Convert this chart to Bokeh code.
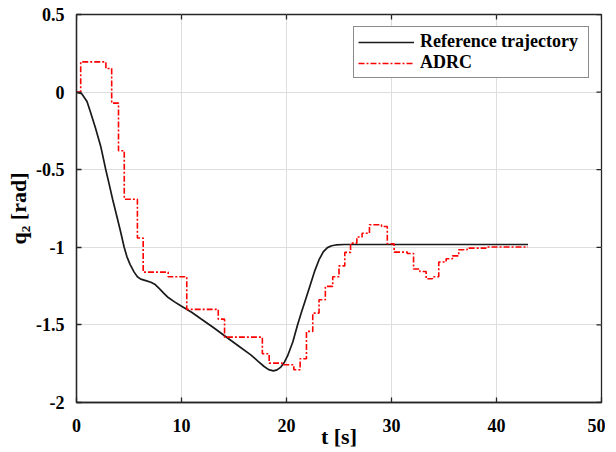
import math
from bokeh.plotting import figure
from bokeh.models import FixedTicker, CustomJSTickFormatter, Range1d
from bokeh.embed import file_html
from bokeh.resources import INLINE

# Reference trajectory (smooth)
ref_t = [0, 0.5, 1.0, 1.36, 1.8, 2.31, 2.79, 3.1, 3.45, 3.84, 4.2, 4.54, 4.8, 5.1,
         5.49, 5.8, 6.12, 6.6, 7.08, 7.5, 7.87, 8.3, 8.67, 9.3, 9.93, 11.0, 11.84,
         13.0, 14.2, 15.4, 16.6, 17.3, 17.87, 18.3, 18.76, 19.1, 19.46, 19.8, 20.1,
         20.6, 21.05, 21.4, 21.85, 22.3, 22.7, 23.1, 23.5, 23.9, 24.3, 24.7, 25.5,
         43.0]
ref_q = [0, -0.01, -0.06, -0.134, -0.23, -0.35, -0.5, -0.59, -0.694, -0.80, -0.9,
         -1.0, -1.06, -1.11, -1.16, -1.19, -1.205, -1.215, -1.225, -1.24, -1.265,
         -1.295, -1.32, -1.35, -1.377, -1.42, -1.46, -1.515, -1.575, -1.634, -1.693,
         -1.735, -1.768, -1.788, -1.796, -1.79, -1.772, -1.74, -1.70, -1.61, -1.50,
         -1.424, -1.33, -1.235, -1.15, -1.08, -1.03, -1.002, -0.99, -0.985, -0.982,
         -0.982]

# ADRC (staircase)
adrc_t = [0, 0.4, 2.8, 3.35, 4.0, 4.55, 5.8, 6.35, 8.73, 10.5, 13.5, 14.1, 17.7,
          18.35, 19.6, 20.7, 21.3, 21.9, 22.5, 23.1, 23.7, 24.4, 25.0, 25.55, 26.1,
          26.7, 27.2, 27.9, 29.05, 29.6, 30.25, 31.5, 32.1, 32.7, 33.3, 33.9, 34.5,
          35.2, 35.8, 36.4, 37.2, 39.0, 43.0]
adrc_q = [0, 0.195, 0.152, -0.071, -0.378, -0.69, -0.94, -1.16, -1.19, -1.40, -1.463,
          -1.579, -1.686, -1.746, -1.757, -1.789, -1.718, -1.542, -1.424, -1.338,
          -1.252, -1.19, -1.12, -1.033, -0.973, -0.934, -0.909, -0.855, -0.866,
          -0.977, -1.031, -1.04, -1.14, -1.156, -1.203, -1.19, -1.095, -1.074,
          -1.055, -1.016, -1.005, -0.998, -0.998]

x_ticks = [0, 10, 20, 30, 40, 50]
y_ticks = [-2, -1.5, -1, -0.5, 0, 0.5]
x_min, x_max = 0, 50
y_min, y_max = -2, 0.5

FONT = "Liberation Serif"
AX = "#262626"

p = figure(frame_width=525, frame_height=388, output_backend="svg",
           toolbar_location=None,
           x_range=Range1d(x_min, x_max), y_range=Range1d(y_min, y_max),
           min_border_left=76, min_border_right=4, min_border_top=14,
           min_border_bottom=41)
p.background_fill_color = "white"
p.outline_line_color = AX
p.outline_line_width = 1.3

fmt = CustomJSTickFormatter(code="return tick.toString();")

for ax in (p.xaxis[0], p.yaxis[0]):
    ax.major_label_text_font = FONT
    ax.major_label_text_font_style = "bold"
    ax.major_label_text_font_size = "18px"
    ax.major_label_text_color = "black"
    ax.axis_label_text_font = FONT
    ax.axis_label_text_font_style = "bold"
    ax.axis_label_text_font_size = "22px"
    ax.axis_label_text_color = "black"
    ax.major_tick_in = 5
    ax.major_tick_out = 0
    ax.minor_tick_line_color = None
    ax.axis_line_color = AX
    ax.axis_line_width = 1.3
    ax.major_tick_line_color = AX
    ax.major_tick_line_width = 1.3
    ax.formatter = fmt

p.xaxis[0].ticker = FixedTicker(ticks=x_ticks)
p.yaxis[0].ticker = FixedTicker(ticks=y_ticks)
p.xaxis[0].axis_label = "t [s]"
p.yaxis[0].axis_label = "q\u2082 [rad]"
p.xaxis[0].major_label_standoff = 16
p.xaxis[0].axis_label_standoff = -11
p.yaxis[0].major_label_standoff = 12
p.yaxis[0].axis_label_standoff = 2

p.xgrid.ticker = FixedTicker(ticks=x_ticks)
p.ygrid.ticker = FixedTicker(ticks=y_ticks)
p.grid.grid_line_color = "#dedede"
p.grid.grid_line_width = 1

# ticks on the top and right edges of the box (MATLAB "box on")
p.ray(x=x_ticks, y=[y_max] * len(x_ticks), length=5, length_units="screen",
      angle=-math.pi / 2, line_color=AX, line_width=1.3)
p.ray(x=[x_max] * len(y_ticks), y=y_ticks, length=5, length_units="screen",
      angle=math.pi, line_color=AX, line_width=1.3)

p.line(ref_t, ref_q, line_color="#1a1a1a", line_width=1.7,
       legend_label="Reference trajectory")
p.step(adrc_t, adrc_q, mode="after", line_color="#ff0000", line_width=1.6,
       line_dash="6 2 2 2", legend_label="ADRC")

lg = p.legend[0]
lg.location = "top_right"
lg.margin = 12
lg.padding = 4
lg.spacing = -2
lg.label_height = 18
lg.glyph_height = 18
lg.glyph_width = 56
lg.label_width = 164
lg.label_standoff = 6
lg.label_text_font = FONT
lg.label_text_font_style = "bold"
lg.label_text_font_size = "18px"
lg.label_text_color = "black"
lg.border_line_color = "#1a1a1a"
lg.border_line_width = 1.5
lg.background_fill_alpha = 1.0

open("out.html", "w").write(file_html(p, INLINE))
